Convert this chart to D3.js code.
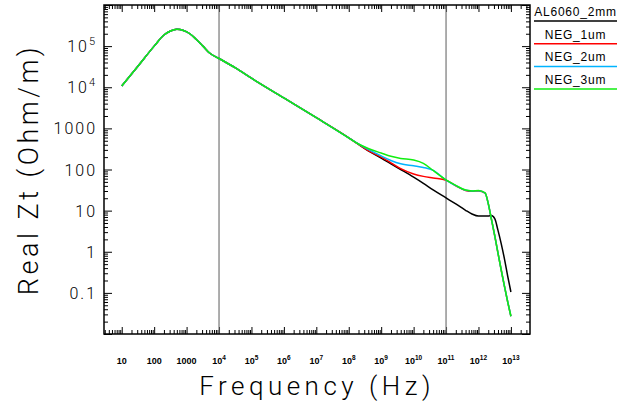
<!DOCTYPE html>
<html>
<head>
<meta charset="utf-8">
<script src="https://cdn.jsdelivr.net/npm/d3@7"></script>
<style>
  body { margin: 0; background: #fff; }
  text { font-family: "Liberation Sans", Arial, sans-serif; fill: #000; }
  .title { font-family: "Roboto", "Liberation Sans", sans-serif; font-weight: 300; }
</style>
</head>
<body>
<svg id="chart" width="622" height="407"></svg>
<script>
// frequency points (Hz), shared by every curve
const freq = [10, 32, 100, 200, 320, 500, 800, 1260, 2000, 3200, 5000, 1e4, 3.2e4, 1e5, 1e6, 1e7, 1e8,
  2e8, 4e8, 1e9, 2e9, 4e9, 1e10, 2e10, 4e10, 1e11, 2e11, 4e11, 6.3e11, 1e12,
  1.6e12, 2e12, 2.5e12, 3.2e12, 4e12, 5e12, 6.3e12, 8e12, 1e13];

// Real Zt (Ohm/m)
const al6060_2mm = [10700, 33000, 100000, 186000, 234000, 257000, 240000, 200000, 145000, 100000, 69000, 50000, 29500, 16600, 5500, 1820, 590,
  407, 282, 190, 138, 100, 65, 46, 32, 20.4, 14.5, 10.2, 8.3, 7.4,
  7.4, 7.4, 7.6, 6.3, 3.3, 1.6, 0.68, 0.25, 0.105];
const neg_1um = [10700, 33000, 100000, 186000, 234000, 257000, 240000, 200000, 145000, 100000, 69000, 50000, 29500, 16600, 5500, 1820, 590,
  407, 288, 200, 145, 105, 78, 68, 62, 55, 40, 31, 29.5, 30.2,
  26.5, 14.8, 6.2, 2.35, 0.92, 0.365, 0.146, 0.059, 0.027];
const neg_2um = [10700, 33000, 100000, 186000, 234000, 257000, 240000, 200000, 145000, 100000, 69000, 50000, 29500, 16600, 5500, 1820, 590,
  417, 309, 214, 166, 138, 123, 112, 95, 55.5, 40.5, 31.3, 30, 30.6,
  26.8, 14.9, 6.25, 2.38, 0.925, 0.368, 0.147, 0.06, 0.027];
const neg_3um = [10700, 33000, 100000, 186000, 234000, 257000, 240000, 200000, 145000, 100000, 69000, 50000, 29500, 16600, 5500, 1820, 590,
  417, 324, 251, 209, 186, 170, 141, 95, 56, 41, 31.6, 30.2, 30.9,
  27, 15, 6.3, 2.4, 0.93, 0.37, 0.148, 0.06, 0.027];

const seriesNames = ["AL6060_2mm", "NEG_1um", "NEG_2um", "NEG_3um"];
const seriesColors = ["#000000", "#ff0000", "#00b4ff", "#11ee11"];
const seriesValues = [al6060_2mm, neg_1um, neg_2um, neg_3um];

const xTicks = [10, 100, 1000, 1e4, 1e5, 1e6, 1e7, 1e8, 1e9, 1e10, 1e11, 1e12, 1e13];
const yTicks = [0.1, 1, 10, 100, 1000, 1e4, 1e5];
const markerFreqs = [1e4, 1e11];

const svg = d3.select("#chart");
const margin = {top: 5, right: 92, bottom: 73, left: 104};
const w = 622 - margin.left - margin.right;
const h = 407 - margin.top - margin.bottom;

const x = d3.scaleLog().domain([2.84, 3.88e13]).range([0, w]);
const y = d3.scaleLog().domain([0.01, 1e6]).range([h, 0]);

const g = svg.append("g").attr("transform", `translate(${margin.left},${margin.top})`);

const isMajor = v => Math.abs(Math.log10(v) - Math.round(Math.log10(v))) < 1e-9;
const xAll = x.ticks(40), yAll = y.ticks(40);
const xMinor = xAll.filter(v => !isMajor(v)), xMajor = xAll.filter(isMajor);
const yMinor = yAll.filter(v => !isMajor(v)), yMajor = yAll.filter(isMajor);

function tickAxis(axisFn, scale, values, size, tr) {
  g.append("g").attr("class", "ticks").attr("transform", tr)
    .call(axisFn(scale).tickValues(values).tickSize(-size).tickSizeOuter(0).tickFormat(""))
    .call(a => a.select(".domain").remove())
    .selectAll("line").attr("stroke", "#000").attr("stroke-width", 1);
}
tickAxis(d3.axisBottom, x, xMinor, 4, `translate(0,${h})`);
tickAxis(d3.axisBottom, x, xMajor, 7, `translate(0,${h})`);
tickAxis(d3.axisTop, x, xMinor, 4, "translate(0,0)");
tickAxis(d3.axisTop, x, xMajor, 7, "translate(0,0)");
tickAxis(d3.axisLeft, y, yMinor, 4, "translate(0,0)");
tickAxis(d3.axisLeft, y, yMajor, 8, "translate(0,0)");
tickAxis(d3.axisRight, y, yMinor, 4, `translate(${w},0)`);
tickAxis(d3.axisRight, y, yMajor, 8, `translate(${w},0)`);

// vertical markers
g.selectAll(".marker").data(markerFreqs).join("line")
  .attr("class", "marker")
  .attr("x1", d => x(d)).attr("x2", d => x(d))
  .attr("y1", 0).attr("y2", h)
  .attr("stroke", "#777").attr("stroke-width", 1.2);

// curves
const line = d3.line()
  .x((d, i) => x(freq[i]))
  .y(d => y(d))
  .curve(d3.curveMonotoneX);

g.selectAll(".curve").data(seriesValues).join("path")
  .attr("class", "curve")
  .attr("d", d => line(d))
  .attr("fill", "none")
  .attr("stroke", (d, i) => seriesColors[i])
  .attr("stroke-width", 1.5);

// frame
g.append("rect").attr("width", w).attr("height", h)
  .attr("fill", "none").attr("stroke", "#000").attr("stroke-width", 1.5);

// tick labels
function powText(sel, v, plainMax, supSize, supDy) {
  const e = Math.round(Math.log10(v));
  if (v <= plainMax) {
    sel.append("tspan").text(v < 1 ? String(v) : d3.format("d")(v));
  } else {
    sel.append("tspan").text("10");
    sel.append("tspan").attr("dy", supDy).attr("font-size", supSize).text(e);
  }
}

g.selectAll(".xlab").data(xTicks).join("text")
  .attr("class", "xlab")
  .attr("x", d => x(d))
  .attr("y", h + 30)
  .attr("text-anchor", "middle")
  .attr("font-size", 9)
  .attr("font-weight", "bold")
  .each(function(d) { powText(d3.select(this), d, 1000, 6.5, -4); });

g.selectAll(".ylab").data(yTicks).join("text")
  .attr("class", "ylab title")
  .attr("x", -7)
  .attr("y", d => y(d) + 6)
  .attr("text-anchor", "end")
  .attr("font-size", 16)
  .attr("letter-spacing", 2)
  .each(function(d) { powText(d3.select(this), d, 1000, 11, -7); });

// axis titles
svg.append("text")
  .attr("class", "title")
  .attr("x", margin.left + w / 2)
  .attr("y", 395)
  .attr("text-anchor", "middle")
  .attr("font-size", 26)
  .attr("letter-spacing", 4.5)
  .text("Frequency (Hz)");

svg.append("text")
  .attr("class", "title")
  .attr("transform", `translate(38,${margin.top + h / 2}) rotate(-90)`)
  .attr("text-anchor", "middle")
  .attr("font-size", 27)
  .attr("letter-spacing", 3.5)
  .text("Real Zt (Ohm/m)");

// legend
const legend = svg.append("g").attr("class", "legend");
seriesNames.forEach((name, i) => {
  const ly = 21 + i * 22.7;
  legend.append("line")
    .attr("x1", 534).attr("x2", 617)
    .attr("y1", ly).attr("y2", ly)
    .attr("stroke", seriesColors[i]).attr("stroke-width", 1.5);
  legend.append("text")
    .attr("x", 575.5).attr("y", ly - 5)
    .attr("text-anchor", "middle")
    .attr("font-size", 12)
    .attr("letter-spacing", 0.8)
    .text(name);
});
</script>
</body>
</html>
